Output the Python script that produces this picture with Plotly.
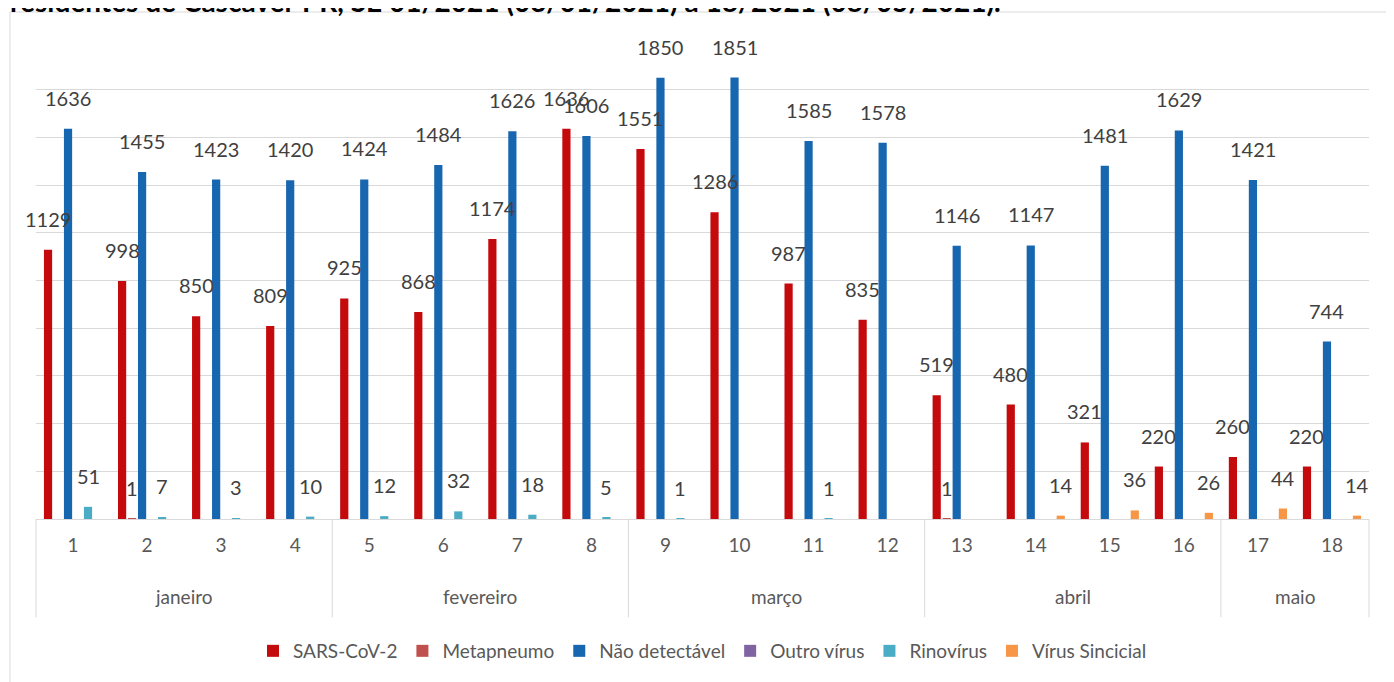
import plotly.graph_objects as go

weeks = list(range(1, 19))
week_labels = [str(w) for w in weeks]
months = ["janeiro"] * 4 + ["fevereiro"] * 4 + ["março"] * 4 + ["abril"] * 4 + ["maio"] * 2

sars = [1129, 998, 850, 809, 925, 868, 1174, 1636, 1551, 1286, 987, 835, 519, 480, 321, 220, 260, 220]
metapneumo = [None, 1, None, None, None, None, None, None, None, None, None, None, 1, None, None, None, None, None]
nao_detectavel = [1636, 1455, 1423, 1420, 1424, 1484, 1626, 1606, 1850, 1851, 1585, 1578, 1146, 1147, 1481, 1629, 1421, 744]
outro = [None] * 18
rinovirus = [51, 7, 3, 10, 12, 32, 18, 5, 1, None, 1, None, None, None, None, None, None, None]
sincicial = [None, None, None, None, None, None, None, None, None, None, None, None, None, 14, 36, 26, 44, 14]

series = [
    ("SARS-CoV-2", sars, "#C40A0C"),
    ("Metapneumo", metapneumo, "#C0504D"),
    ("Não detectável", nao_detectavel, "#1766B0"),
    ("Outro vírus", outro, "#8064A2"),
    ("Rinovírus", rinovirus, "#4BACC6"),
    ("Vírus Sincicial", sincicial, "#F79646"),
]

FONT = "Lato"
BARGAP = 0.19
GROUPGAP = 0.18

fig = go.Figure()
for name, vals, color in series:
    fig.add_trace(go.Bar(
        x=weeks, y=vals, name=name,
        marker=dict(color=color, line=dict(width=0)),
        hoverinfo="x+y+name",
    ))

# data labels above bars (Excel "outside end" style)
n = len(series)
slot = (1 - BARGAP) / n
annotations = []
for j, (name, vals, color) in enumerate(series):
    off = -(1 - BARGAP) / 2 + (j + 0.5) * slot
    for w, v in zip(weeks, vals):
        if v is None:
            continue
        annotations.append(dict(
            x=w + off, y=v, xref="x", yref="y", text=str(v), showarrow=False,
            yshift=31, yanchor="middle", xanchor="center",
            font=dict(family=FONT, size=20, color="#404040"),
        ))

# month labels & dividers (multi-level axis)
groups = []
for i, m in enumerate(months):
    if not groups or groups[-1][0] != m:
        groups.append([m, weeks[i], weeks[i]])
    else:
        groups[-1][2] = weeks[i]

x_lo, x_hi = 0.5, 18.5
def xp(v):
    return (v - x_lo) / (x_hi - x_lo)

shapes = []
bounds = [groups[0][1] - 0.5] + [g[2] + 0.5 for g in groups]
for b in bounds:
    shapes.append(dict(type="line", xref="paper", yref="paper",
                       x0=xp(b), x1=xp(b), y0=0, y1=-0.206,
                       line=dict(color="#D9D9D9", width=1)))
for m, a, b in groups:
    annotations.append(dict(
        x=(a + b) / 2, y=-0.1635, xref="x", yref="paper", text=m, showarrow=False,
        yanchor="middle", font=dict(family=FONT, size=19, color="#595959"),
    ))

# chart frame
shapes.append(dict(type="rect", xref="paper", yref="paper",
                   x0=-26 / 1333, x1=1354 / 1333, y0=507 / 477, y1=-0.40,
                   line=dict(color="#D9D9D9", width=1), fillcolor="rgba(0,0,0,0)", layer="below"))

# title (cut off at the top as in the source)
annotations.append(dict(
    x=-28 / 1333, y=499 / 477, xref="paper", yref="paper", xanchor="left", yanchor="bottom",
    text="<b>residentes de Cascavel-PR, SE 01/2021 (03/01/2021) a 18/2021 (08/05/2021).</b>",
    showarrow=False, font=dict(family=FONT, size=28, color="#000000"),
))

fig.update_layout(
    width=1386, height=674,
    margin=dict(l=28, r=25, t=34, b=163),
    paper_bgcolor="white", plot_bgcolor="white",
    barmode="group", bargap=BARGAP, bargroupgap=GROUPGAP,
    font=dict(family=FONT, color="#595959"),
    showlegend=True,
    legend=dict(orientation="h", x=0.5, xanchor="center", y=-0.2767, yanchor="middle",
                font=dict(family=FONT, size=19, color="#595959"), itemwidth=30,
                traceorder="normal"),
    annotations=annotations, shapes=shapes,
    xaxis=dict(range=[x_lo, x_hi], tickmode="array", tickvals=weeks, ticktext=week_labels,
               showgrid=False, zeroline=False, showline=True, linecolor="#D9D9D9", linewidth=1,
               ticks="", ticklabelstandoff=9, tickfont=dict(family=FONT, size=19, color="#595959")),
    yaxis=dict(range=[0, 2000], dtick=200, showgrid=True, gridcolor="#D9D9D9", gridwidth=1,
               zeroline=False, showticklabels=False, showline=False, ticks=""),
)

fig.write_html("out.html")
